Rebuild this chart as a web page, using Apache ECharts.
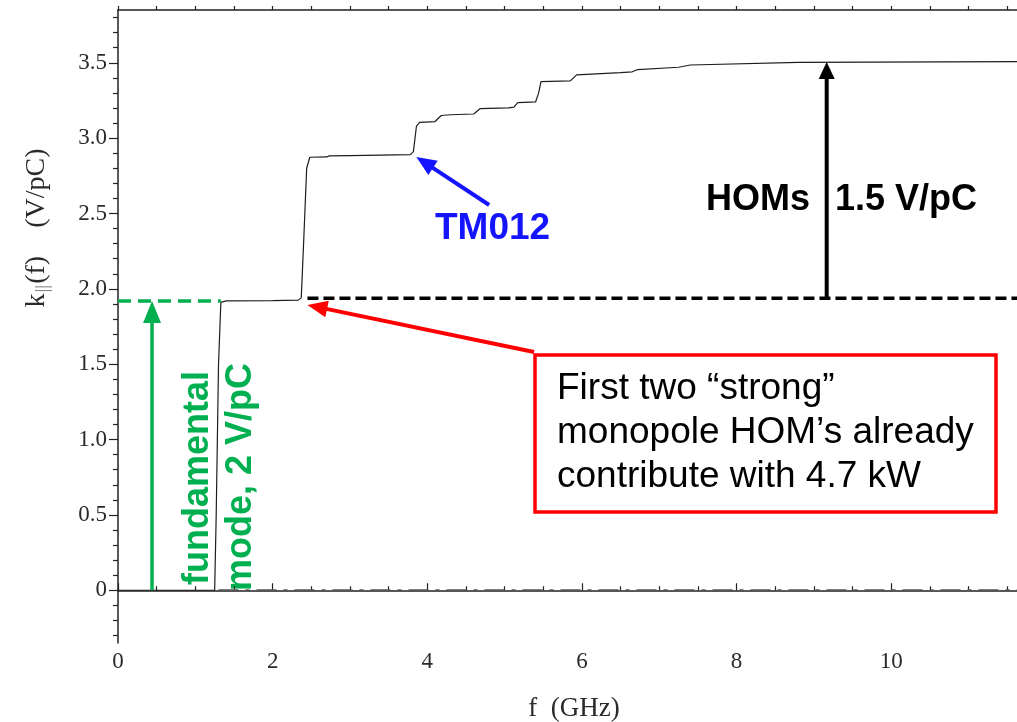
<!DOCTYPE html>
<html>
<head>
<meta charset="utf-8">
<script src="https://cdn.jsdelivr.net/npm/echarts@6/dist/echarts.min.js"></script>
<style>
  html, body { margin: 0; padding: 0; background: #ffffff; }
  #chart { width: 1017px; height: 722px; }
</style>
</head>
<body>
<div id="chart"></div>
<script>
// Cumulative longitudinal loss factor k||(f) versus frequency
const freqGHz = [0, 1.25, 1.27, 1.30, 1.33, 1.40, 2.00, 2.33, 2.37, 2.40, 2.44, 2.48, 2.70, 2.73, 3.00, 3.78, 3.82, 3.86, 3.90,
  4.10, 4.18, 4.30, 4.60, 4.68, 5.05, 5.12, 5.17, 5.40, 5.44, 5.47, 5.85, 5.93, 6.50, 6.65, 6.72, 7.25, 7.40, 8.80, 11.63];
const kLoss = [0, 0, 0.50, 1.50, 1.91, 1.92, 1.922, 1.925, 1.94, 2.30, 2.80, 2.873, 2.875, 2.882, 2.884, 2.89, 2.91, 3.08, 3.105,
  3.11, 3.15, 3.155, 3.16, 3.195, 3.20, 3.205, 3.235, 3.24, 3.30, 3.375, 3.38, 3.42, 3.435, 3.44, 3.455, 3.47, 3.485, 3.502, 3.508];

// Axis ticks
const xTickLabels = [0, 2, 4, 6, 8, 10];
const xMinorTicks = [0.5, 1, 1.5, 2.5, 3, 3.5, 4.5, 5, 5.5, 6.5, 7, 7.5, 8.5, 9, 9.5, 10.5, 11, 11.5];
const xTopTicks = [0, 0.5, 1, 1.5, 2, 2.5, 3, 3.5, 4, 4.5, 5, 5.5, 6, 6.5, 7, 7.5, 8, 8.5, 9, 9.5, 10, 10.5, 11, 11.5];
const yTickLabels = [0, 0.5, 1.0, 1.5, 2.0, 2.5, 3.0, 3.5];
const yMinorTicks = [-0.3, -0.2, -0.1, 0.1, 0.2, 0.3, 0.4, 0.6, 0.7, 0.8, 0.9, 1.1, 1.2, 1.3, 1.4, 1.6, 1.7, 1.8, 1.9,
  2.1, 2.2, 2.3, 2.4, 2.6, 2.7, 2.8, 2.9, 3.1, 3.2, 3.3, 3.4, 3.6, 3.7, 3.8];

// Reference levels
const fundamentalLevel = 1.92;   // after the fundamental mode
const homBaseLevel = 1.937;      // start of the HOM contribution
const totalLevel = 3.505;        // asymptotic total
const fundamentalSpan = [0, 1.33];
const homSpan = [2.45, 11.63];
const zeroSpan = [1.3, 11.63];

// Annotation arrows: [fromX, fromY, toX, toY]
const fundamentalArrow = [0.44, 0, 0.44, fundamentalLevel];
const homArrow = [9.165, homBaseLevel, 9.165, totalLevel];
const tm012Arrow = [4.80, 2.556, 3.858, 2.875];
const strongHomArrow = [5.38, 1.581, 2.45, 1.893];

const X_MAX = 11.626, Y_MIN = -0.35, Y_MAX = 3.85;
const GREEN = '#00b050', RED = '#ff0000', BLUE = '#1414ff';
const SERIF = '"Liberation Serif", "DejaVu Serif", serif';
const SANS = '"Liberation Sans", Arial, sans-serif';

function arrowSeries(name, pts, color, width, headLen, headW) {
  return {
    name, type: 'custom', xAxisIndex: 0, yAxisIndex: 0, z: 5, silent: true,
    encode: { x: [0, 2], y: [1, 3] },
    data: [pts],
    renderItem(params, api) {
      const p1 = api.coord([api.value(0), api.value(1)]);
      const p2 = api.coord([api.value(2), api.value(3)]);
      const dx = p2[0] - p1[0], dy = p2[1] - p1[1];
      const len = Math.hypot(dx, dy);
      const ux = dx / len, uy = dy / len, nx = -uy, ny = ux;
      const bx = p2[0] - ux * headLen, by = p2[1] - uy * headLen;
      return {
        type: 'group',
        children: [
          { type: 'line', shape: { x1: p1[0], y1: p1[1], x2: bx + ux * 2, y2: by + uy * 2 },
            style: { stroke: color, lineWidth: width } },
          { type: 'polygon',
            shape: { points: [[p2[0], p2[1]], [bx + nx * headW / 2, by + ny * headW / 2], [bx - nx * headW / 2, by - ny * headW / 2]] },
            style: { fill: color } }
        ]
      };
    }
  };
}

const chart = echarts.init(document.getElementById('chart'), null, { renderer: 'canvas' });

const axisColor = '#222';
const labelStyle = { color: '#2a2a2a', fontFamily: SERIF, fontSize: 23 };

chart.setOption({
  backgroundColor: '#ffffff',
  animation: false,
  grid: { left: 118, top: 10, width: 901, height: 633, containLabel: false },
  xAxis: [
    { type: 'value', position: 'bottom', min: 0, max: X_MAX,
      axisLine: { show: true, lineStyle: { color: axisColor, width: 1.5 } },
      axisTick: { show: true, inside: true, length: 7, customValues: xTickLabels, lineStyle: { color: axisColor, width: 1.2 } },
      axisLabel: { show: true, customValues: xTickLabels, margin: 7, ...labelStyle },
      splitLine: { show: false } },
    { type: 'value', position: 'bottom', min: 0, max: X_MAX,
      axisLine: { show: false },
      axisTick: { show: true, inside: true, length: 4, customValues: xMinorTicks, lineStyle: { color: axisColor, width: 1.2 } },
      axisLabel: { show: false }, splitLine: { show: false } },
    { type: 'value', position: 'top', min: 0, max: X_MAX,
      axisLine: { show: true, lineStyle: { color: axisColor, width: 1.5 } },
      axisTick: { show: true, inside: false, length: 4, customValues: xTopTicks, lineStyle: { color: axisColor, width: 1.2 } },
      axisLabel: { show: false }, splitLine: { show: false } }
  ],
  yAxis: [
    { type: 'value', position: 'left', min: Y_MIN, max: Y_MAX,
      axisLine: { show: true, lineStyle: { color: axisColor, width: 1.5 } },
      axisTick: { show: true, inside: false, length: 9, customValues: yTickLabels, lineStyle: { color: axisColor, width: 1.2 } },
      axisLabel: { show: true, customValues: yTickLabels, margin: 11,
        formatter: v => (v === 0 ? '0' : v.toFixed(1)), ...labelStyle },
      splitLine: { show: false } },
    { type: 'value', position: 'left', min: Y_MIN, max: Y_MAX,
      axisLine: { show: false },
      axisTick: { show: true, inside: false, length: 5, customValues: yMinorTicks, lineStyle: { color: axisColor, width: 1.2 } },
      axisLabel: { show: false }, splitLine: { show: false } }
  ],
  series: [
    { name: 'zero', type: 'line', xAxisIndex: 0, yAxisIndex: 0, z: 1, symbol: 'none', silent: true,
      data: zeroSpan.map(f => [f, 0]),
      lineStyle: { color: '#555555', width: 2, type: [20, 7, 4, 7], cap: 'butt' } },
    { name: 'k_loss', type: 'line', xAxisIndex: 0, yAxisIndex: 0, z: 3, symbol: 'none', silent: true,
      data: freqGHz.map((f, i) => [f, kLoss[i]]),
      lineStyle: { color: '#1e1e1e', width: 1.2 } },
    { name: 'fundamental level', type: 'line', xAxisIndex: 0, yAxisIndex: 0, z: 4, symbol: 'none', silent: true,
      data: fundamentalSpan.map(f => [f, fundamentalLevel]),
      lineStyle: { color: GREEN, width: 3.5, type: [13, 7] } },
    { name: 'HOM base level', type: 'line', xAxisIndex: 0, yAxisIndex: 0, z: 4, symbol: 'none', silent: true,
      data: homSpan.map(f => [f, homBaseLevel]),
      lineStyle: { color: '#000000', width: 3.5, type: [11, 5] } },
    arrowSeries('fundamental arrow', fundamentalArrow, GREEN, 3.5, 22, 18),
    arrowSeries('HOM arrow', homArrow, '#000000', 4, 17, 16),
    arrowSeries('TM012 arrow', tm012Arrow, BLUE, 4, 20, 17),
    arrowSeries('strong HOM arrow', strongHomArrow, RED, 4, 20, 17)
  ],
  graphic: [
    { type: 'text', x: 37, y: 228, rotation: Math.PI / 2,
      style: { text: '{k|k}{s|||}{k|(f)    (V/pC)}', align: 'center', verticalAlign: 'middle',
        rich: {
          k: { fontFamily: SERIF, fontSize: 28, fill: '#2a2a2a', verticalAlign: 'middle' },
          s: { fontFamily: SERIF, fontSize: 19, fill: '#777', padding: [12, 1, 0, 1] }
        } } },
    { type: 'text', x: 574, y: 709,
      style: { text: 'f  (GHz)', fontFamily: SERIF, fontSize: 27, fill: '#2a2a2a', align: 'center', verticalAlign: 'middle' } },
    { type: 'text', x: 435, y: 229,
      style: { text: 'TM012', fontFamily: SANS, fontWeight: 'bold', fontSize: 37, fill: BLUE, align: 'left', verticalAlign: 'middle' } },
    { type: 'text', x: 706, y: 200,
      style: { text: 'HOMs', fontFamily: SANS, fontWeight: 'bold', fontSize: 36, fill: '#000', align: 'left', verticalAlign: 'middle' } },
    { type: 'text', x: 835, y: 200,
      style: { text: '1.5 V/pC', fontFamily: SANS, fontWeight: 'bold', fontSize: 36, fill: '#000', align: 'left', verticalAlign: 'middle' } },
    { type: 'text', x: 198, y: 585, rotation: Math.PI / 2,
      style: { text: 'fundamental', fontFamily: SANS, fontWeight: 'bold', fontSize: 36, fill: GREEN, align: 'left', verticalAlign: 'middle' } },
    { type: 'text', x: 241, y: 591, rotation: Math.PI / 2,
      style: { text: 'mode, 2 V/pC', fontFamily: SANS, fontWeight: 'bold', fontSize: 36, fill: GREEN, align: 'left', verticalAlign: 'middle' } },
    { type: 'rect', shape: { x: 535, y: 355, width: 461, height: 157 },
      style: { fill: '#ffffff', stroke: RED, lineWidth: 3.5 }, z: 10 },
    { type: 'text', x: 557, y: 389, z: 11,
      style: { text: 'First two \u201cstrong\u201d', fontFamily: SANS, fontSize: 37, fill: '#000', align: 'left', verticalAlign: 'middle' } },
    { type: 'text', x: 557, y: 433, z: 11,
      style: { text: 'monopole HOM\u2019s already', fontFamily: SANS, fontSize: 37, fill: '#000', align: 'left', verticalAlign: 'middle' } },
    { type: 'text', x: 557, y: 477, z: 11,
      style: { text: 'contribute with 4.7 kW', fontFamily: SANS, fontSize: 37, fill: '#000', align: 'left', verticalAlign: 'middle' } }
  ]
});
</script>
</body>
</html>
